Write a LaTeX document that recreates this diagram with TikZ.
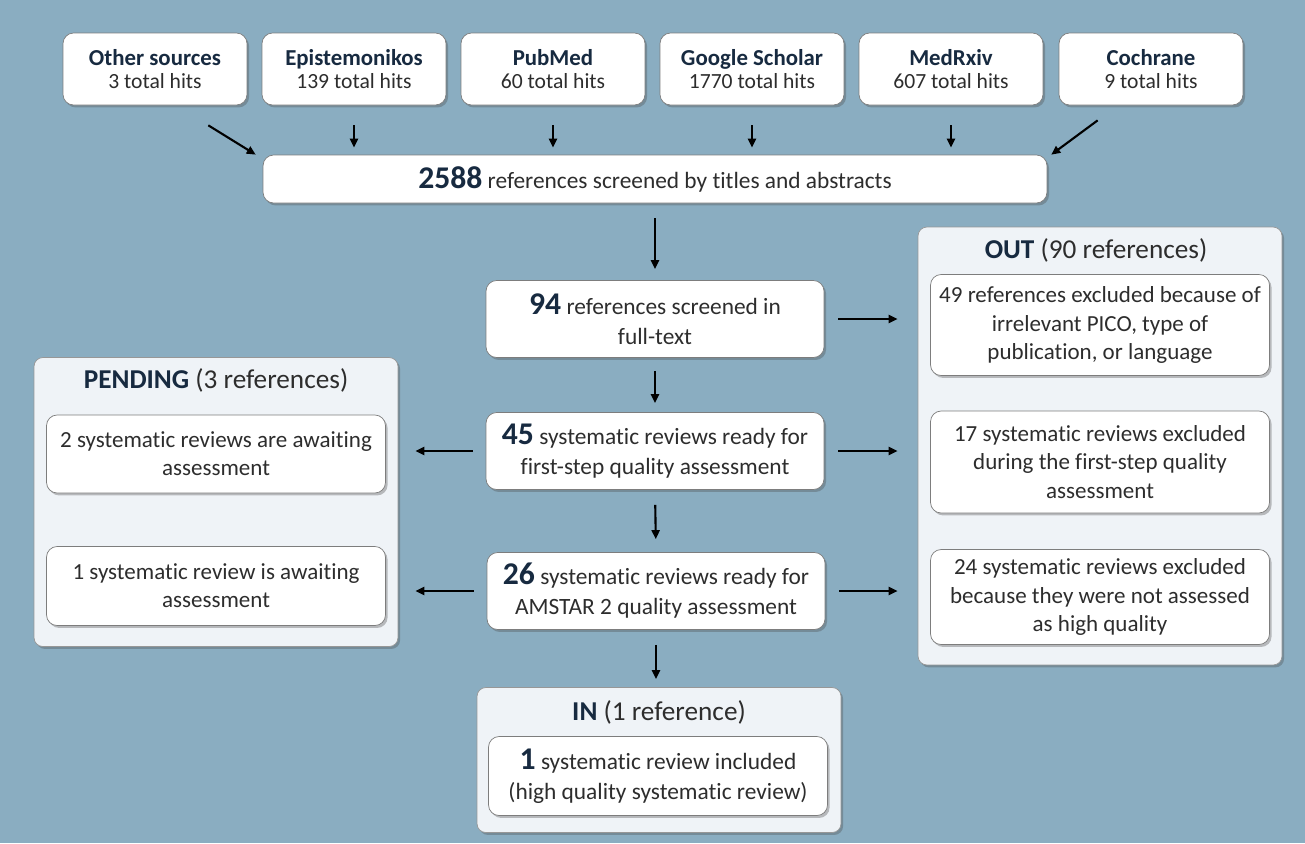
\documentclass[tikz,border=0pt]{standalone}
\usepackage{fontspec}
\setmainfont{Carlito}[Ligatures=CommonOff]
\usetikzlibrary{arrows.meta, positioning, calc, shadows}

\definecolor{slate}{RGB}{138,173,193}
\definecolor{panelgray}{RGB}{239,243,247}
\definecolor{edgegray}{RGB}{125,125,125}
\definecolor{navy}{RGB}{23,42,64}
\definecolor{ink}{RGB}{45,45,45}

\newcommand{\bignum}[1]{{\fontsize{18}{18}\selectfont\bfseries\color{navy}#1}}

\begin{document}
\begin{tikzpicture}[
    x=0.02cm, y=-0.02cm,
    shade/.style={drop shadow={shadow xshift=1.2pt, shadow yshift=-1.4pt, opacity=0.35, fill=black!70}},
    src/.style={
        rectangle, draw=edgegray, fill=white, rounded corners=6pt, shade,
        minimum width=3.68cm, minimum height=1.44cm,
        align=center, text=ink, inner sep=2pt
    },
    stage/.style={
        rectangle, draw=edgegray, fill=white, rounded corners=6pt, shade,
        minimum width=6.76cm, minimum height=1.54cm,
        align=center, text=ink, inner sep=2pt,
        font=\fontsize{13.3}{17}\selectfont
    },
    sub/.style={
        rectangle, draw=edgegray, fill=white, rounded corners=6pt, shade,
        minimum width=6.78cm, align=center, text=ink, inner sep=2pt,
        font=\fontsize{13.1}{16}\selectfont
    },
    panel/.style={
        rectangle, draw=edgegray!80, fill=panelgray, rounded corners=5pt, shade,
        minimum width=7.28cm
    },
    title/.style={font=\fontsize{15.5}{18}\selectfont, text=ink},
    arr/.style={-{Triangle[length=1.8mm, width=1.6mm]}, line width=1.2pt, black},
]

% background
\fill[slate] (0,0) rectangle (1305,843);

% Row 1: sources
\node[src] (other) at (155,69)
    {{\fontsize{13}{16}\selectfont\bfseries\color{navy}Other sources}\\[1pt]{\fontsize{12.3}{14}\selectfont 3 total hits}};
\node[src] (epi) at (354,69)
    {{\fontsize{13}{16}\selectfont\bfseries\color{navy}Epistemonikos}\\[1pt]{\fontsize{12.3}{14}\selectfont 139 total hits}};
\node[src] (pubmed) at (553,69)
    {{\fontsize{13}{16}\selectfont\bfseries\color{navy}PubMed}\\[1pt]{\fontsize{12.3}{14}\selectfont 60 total hits}};
\node[src] (scholar) at (752,69)
    {{\fontsize{13}{16}\selectfont\bfseries\color{navy}Google Scholar}\\[1pt]{\fontsize{12.3}{14}\selectfont 1770 total hits}};
\node[src] (medrxiv) at (951,69)
    {{\fontsize{13}{16}\selectfont\bfseries\color{navy}MedRxiv}\\[1pt]{\fontsize{12.3}{14}\selectfont 607 total hits}};
\node[src] (cochrane) at (1151,69)
    {{\fontsize{13}{16}\selectfont\bfseries\color{navy}Cochrane}\\[1pt]{\fontsize{12.3}{14}\selectfont 9 total hits}};

% Main column
\node[stage, minimum width=15.68cm, minimum height=0.96cm] (main) at (655,179)
    {\bignum{2588} references screened by titles and abstracts};
\node[stage] (n94) at (655,319) {\bignum{94} references screened in\\full-text};
\node[stage] (n45) at (655,451) {\bignum{45} systematic reviews ready for\\first-step quality assessment};
\node[stage] (n26) at (656,591) {\bignum{26} systematic reviews ready for\\AMSTAR 2 quality assessment};

% Panels
\node[panel, minimum height=8.76cm] (out) at (1100,446) {};
\node[title] (outtitle) at (1096,250) {{\bfseries\color{navy}OUT} (90 references)};
\node[sub, minimum height=2.02cm] (out1) at (1100,325)
    {49 references excluded because of\\irrelevant PICO, type of\\publication, or language};
\node[sub, minimum height=2.04cm] (out2) at (1100,462)
    {17 systematic reviews excluded\\during the first-step quality\\assessment};
\node[sub, minimum height=1.9cm] (out3) at (1100,597)
    {24 systematic reviews excluded\\because they were not assessed\\as high quality};

\node[panel, minimum height=5.78cm] (pend) at (216,502) {};
\node[title] (pendtitle) at (216,380) {{\bfseries\color{navy}PENDING} (3 references)};
\node[sub, minimum height=1.56cm] (pend1) at (216,454)
    {2 systematic reviews are awaiting\\assessment};
\node[sub, minimum height=1.58cm] (pend2) at (216,586)
    {1 systematic review is awaiting\\assessment};

\node[panel, minimum height=2.9cm] (in) at (659,760) {};
\node[title] (intitle) at (659,712) {{\bfseries\color{navy}IN} (1 reference)};
\node[sub, minimum height=1.58cm, font=\fontsize{13.3}{17}\selectfont] (in1) at (658,776)
    {\bignum{1} systematic review included\\(high quality systematic review)};

% Arrows: sources to screening
\draw[arr] ($(other.south east)+(-39,20)$) -- ($(main.north west)+(-7,0)$);
\draw[arr, shorten <=0.4cm, shorten >=0.14cm] (epi.south) -- (epi.south |- main.north);
\draw[arr, shorten <=0.4cm, shorten >=0.14cm] (pubmed.south) -- (pubmed.south |- main.north);
\draw[arr, shorten <=0.4cm, shorten >=0.14cm] (scholar.south) -- (scholar.south |- main.north);
\draw[arr, shorten <=0.4cm, shorten >=0.14cm] (medrxiv.south) -- (medrxiv.south |- main.north);
\draw[arr] ($(cochrane.south west)+(39,15)$) -- ($(main.north east)+(4,0)$);

% Arrows: main column
\draw[arr, shorten <=0.3cm, shorten >=0.22cm] (main.south) -- (n94.north);
\draw[arr, shorten <=0.26cm, shorten >=0.18cm] (n94.south) -- (n45.north);
\draw[arr, shorten <=0.3cm, shorten >=0.26cm] (n45.south) -- (n26.north);
\draw[arr, shorten <=0.3cm, shorten >=0.16cm] (n26.south) -- (n26.south |- in.north);

% Arrows: out and pending
\draw[arr, shorten <=0.28cm, shorten >=0.4cm] (n94.east) -- (n94.east -| out.west);
\draw[arr, shorten <=0.28cm, shorten >=0.4cm] (n45.east) -- (n45.east -| out.west);
\draw[arr, shorten <=0.28cm, shorten >=0.4cm] (n26.east) -- (n26.east -| out.west);
\draw[arr, shorten <=0.26cm, shorten >=0.34cm] (n45.west) -- (n45.west -| pend.east);
\draw[arr, shorten <=0.26cm, shorten >=0.34cm] (n26.west) -- (n26.west -| pend.east);

\end{tikzpicture}
\end{document}
